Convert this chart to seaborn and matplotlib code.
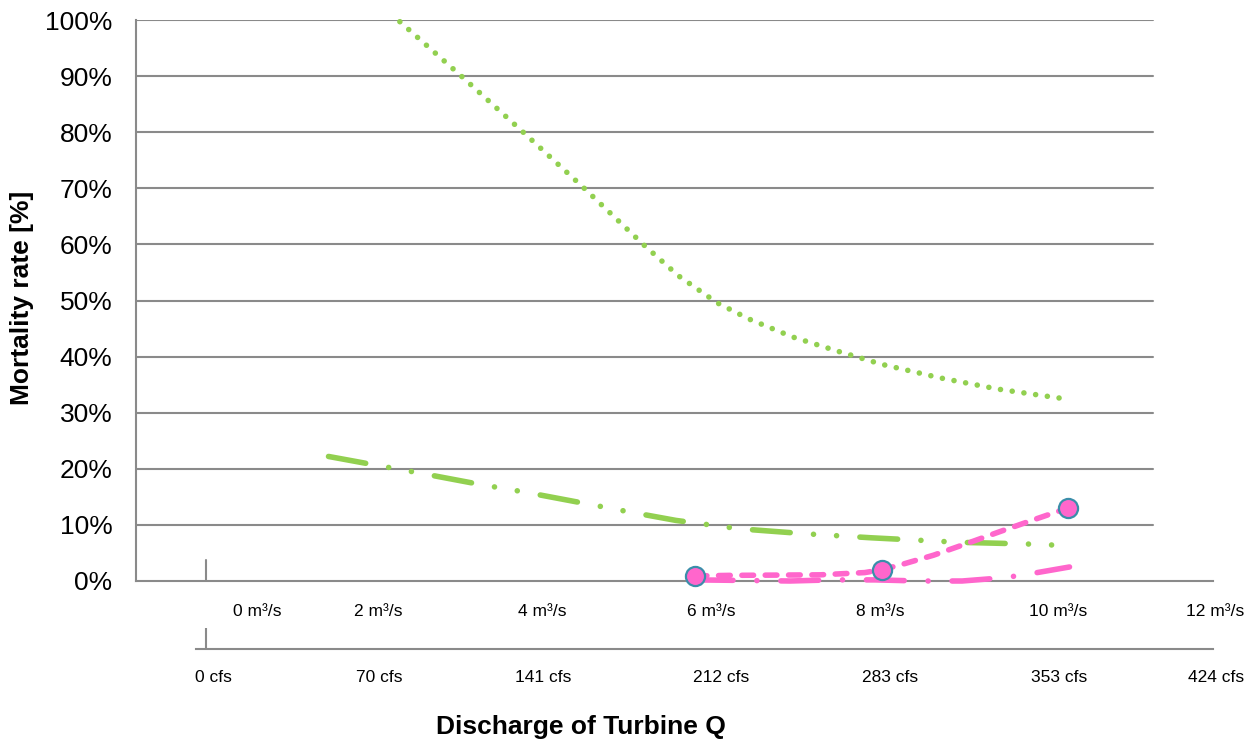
import matplotlib
matplotlib.use("Agg")
import matplotlib.pyplot as plt
import seaborn as sns

# ---------------- data ----------------
# discharge in m3/s, mortality in %
dotted_q = [2.31, 3.05, 3.78, 4.50, 5.21, 5.63, 6.09, 6.47, 6.99, 7.52, 8.06, 8.75, 9.44, 9.99, 10.27]
dotted_rate = [99.7, 89.9, 80.0, 70.1, 60.0, 54.4, 49.6, 46.7, 43.5, 41.0, 38.6, 36.2, 34.2, 33.0, 32.4]

dashdotdot_q = [1.46, 1.97, 2.49, 3.27, 3.78, 4.56, 5.05, 5.60, 6.36, 7.16, 7.93, 8.97, 9.78, 10.28]
dashdotdot_rate = [22.2, 20.8, 19.4, 17.2, 15.9, 13.7, 12.3, 10.8, 9.3, 8.4, 7.7, 6.9, 6.6, 6.3]

dashed_q = [5.83, 6.22, 7.32, 7.85, 8.05, 8.27, 8.67, 9.07, 9.46, 9.86, 10.27]
dashed_rate = [0.9, 1.0, 1.1, 1.5, 2.0, 2.85, 4.6, 6.7, 8.8, 10.9, 13.0]

dashdot_q = [5.83, 6.96, 7.46, 7.97, 8.50, 9.01, 9.52, 9.79, 10.29]
dashdot_rate = [0.2, 0.0, 0.2, 0.2, 0.0, 0.0, 0.6, 1.2, 2.5]

marker_q = [5.83, 8.05, 10.27]
marker_rate = [0.9, 2.0, 13.0]

mps_ticks = [0, 2, 4, 6, 8, 10, 12]
mps_labels = ["0 m³/s", "2 m³/s", "4 m³/s", "6 m³/s", "8 m³/s", "10 m³/s", "12 m³/s"]
cfs_labels = ["0 cfs", "70 cfs", "141 cfs", "212 cfs", "283 cfs", "353 cfs", "424 cfs"]
rate_ticks = [0, 10, 20, 30, 40, 50, 60, 70, 80, 90, 100]
rate_labels = ["0%", "10%", "20%", "30%", "40%", "50%", "60%", "70%", "80%", "90%", "100%"]

y_title = "Mortality rate [%]"
x_title = "Discharge of Turbine Q"

# ---------------- style ----------------
GREEN = "#92D050"
PINK = "#FF66CC"
EDGE = "#3B8EAA"
GRID = "#8A8A8A"

sns.set_style("white")
plt.rcParams["font.family"] = ["Liberation Sans", "DejaVu Sans"]
NARROW = ["Liberation Sans Narrow", "Liberation Sans", "DejaVu Sans"]

W, H = 1253, 744
fig = plt.figure(figsize=(W / 100, H / 100), dpi=100)


def px_rect(l, t, r, b):
    return [l / W, 1 - b / H, (r - l) / W, (b - t) / H]


ax = fig.add_axes(px_rect(136, 20, 1213, 581))
ax2 = fig.add_axes(px_rect(196, 628, 1213, 649))

ppu = (1213 - 206) / 12.0  # pixels per m3/s
ax.set_xlim((136 - 206) / ppu, 12)
ax.set_ylim(0, 100)
ax2.set_xlim((196 - 206) / ppu, 12)
ax2.set_ylim(0, 1)
ax2.patch.set_alpha(0)

# horizontal gridlines (stop short of the extended x axis)
for v in rate_ticks[1:]:
    ax.axhline(v, xmin=0, xmax=(1153 - 136) / (1213 - 136), color=GRID, lw=1.5, zorder=1)

for a in (ax, ax2):
    for s in ("top", "right"):
        a.spines[s].set_visible(False)
    a.spines["bottom"].set_color(GRID)
    a.spines["bottom"].set_linewidth(1.5)
ax.spines["left"].set_color(GRID)
ax.spines["left"].set_linewidth(1.5)
ax2.spines["left"].set_visible(False)

ax.set_yticks(rate_ticks, rate_labels)
ax.tick_params(axis="y", length=5, width=1.5, color=GRID, pad=12, labelsize=19, labelcolor="black")
ax.set_xticks(mps_ticks)
ax.tick_params(axis="x", length=6.5, width=1.5, color=GRID, direction="out", labelbottom=False)
ax2.set_xticks(mps_ticks)
ax2.set_yticks([])
ax2.tick_params(axis="x", length=6.5, width=1.5, color=GRID, direction="out", labelbottom=False)

# tall ticks at zero
ax.axvline(0, ymin=0, ymax=21 / 561, color=GRID, lw=1.5, zorder=2)
ax2.axvline(0, ymin=0, ymax=1, color=GRID, lw=1.5)

# tick labels placed as in the reference
mps_dx = [51, 4, 1, 2, 3, 13, 2]
cfs_dx = [7, 5, 2, 12, 13, 14, 3]
for q, lab, dx in zip(mps_ticks, mps_labels, mps_dx):
    ax.annotate(lab, xy=(q, 0), xycoords=("data", "axes fraction"),
                xytext=(dx * 0.72, -31 * 0.72), textcoords="offset points",
                ha="center", va="center", fontsize=12.5, family=NARROW, color="black")
for q, lab, dx in zip(mps_ticks, cfs_labels, cfs_dx):
    ax2.annotate(lab, xy=(q, 0), xycoords=("data", "axes fraction"),
                 xytext=(dx * 0.72, -29 * 0.72), textcoords="offset points",
                 ha="center", va="center", fontsize=12.5, family=NARROW, color="black")

# ---------------- series ----------------
LW = 4.0
sns.lineplot(x=dotted_q, y=dotted_rate, ax=ax, color=GREEN, lw=LW, sort=False,
             linestyle=(0, (0.01, 2.12)), dash_capstyle="round", zorder=3, clip_on=False)
sns.lineplot(x=dashdotdot_q, y=dashdotdot_rate, ax=ax, color=GREEN, lw=LW, sort=False,
             linestyle=(0, (6.8, 4.2, 0.01, 4.15, 0.01, 4.2)), dash_capstyle="round",
             zorder=3, clip_on=False)
sns.lineplot(x=dashdot_q, y=dashdot_rate, ax=ax, color=PINK, lw=LW, sort=False,
             linestyle=(0, (6.8, 4.3, 0.01, 4.3)), dash_capstyle="round", zorder=3, clip_on=False)
sns.lineplot(x=dashed_q, y=dashed_rate, ax=ax, color=PINK, lw=LW, sort=False,
             linestyle=(0, (2.1, 2.1)), dash_capstyle="round", zorder=3, clip_on=False)
sns.scatterplot(x=marker_q, y=marker_rate, ax=ax, s=190, color=PINK, edgecolor=EDGE,
                linewidth=1.6, zorder=5, clip_on=False)

# ---------------- axis titles ----------------
ax.set_xlabel("")
ax.set_ylabel(y_title, fontsize=19, fontweight="bold", color="black")
ax.yaxis.label.set_va("center")
ax.yaxis.set_label_coords((22 - 136) / 1077, (581 - 298) / 561)
fig.text(581 / W, 1 - 727 / H, x_title, fontsize=19, fontweight="bold",
         ha="center", va="center", color="black")

fig.savefig("out.png", dpi=100)
